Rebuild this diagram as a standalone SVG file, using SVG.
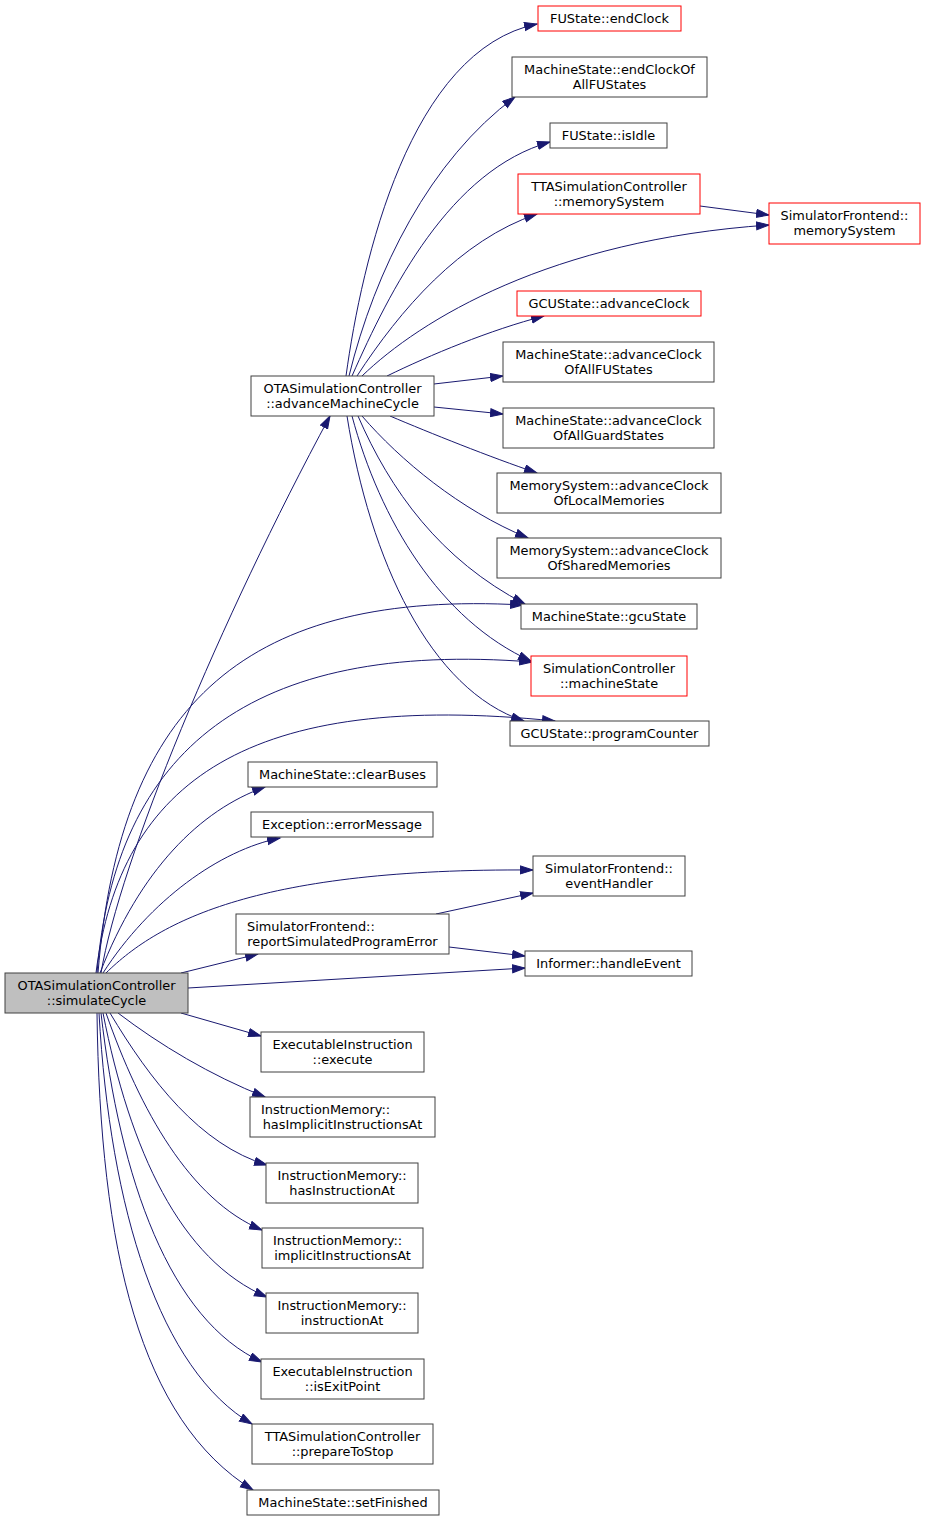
<svg xmlns="http://www.w3.org/2000/svg" width="925" height="1521" viewBox="0 0 925 1521">
<style>
.n rect{fill:#ffffff;stroke:#404040;stroke-width:1}
.n.r rect{stroke:#ff0000}
.n.s rect{fill:#bfbfbf}
.n text{font-family:"DejaVu Sans",sans-serif;font-size:12.9px;fill:#000000;text-anchor:middle}
.n text.l{text-anchor:start}
.e path{fill:none;stroke:#191970;stroke-width:1;marker-end:url(#ah)}
</style>
<defs>
<marker id="ah" markerUnits="userSpaceOnUse" markerWidth="15" markerHeight="11" refX="13" refY="4.5" orient="auto">
<path d="M0.5,0.5 L13,4.5 L0.5,8.5 z" fill="#191970" stroke="#191970" stroke-width="1"/>
</marker>
</defs>
<rect width="925" height="1521" fill="#ffffff"/>
<g id="edges" class="e">
<path d="M346,376 C362,260 410,50 537,24"/>
<path d="M349,376 C375,270 430,160 515,97"/>
<path d="M352,376 C390,290 450,170 550,142"/>
<path d="M357,376 C400,310 460,240 537,214"/>
<path d="M362,376 C420,320 550,240 769,225"/>
<path d="M700,206 L769,215"/>
<path d="M387,376 C430,355 490,330 544,316"/>
<path d="M434,384 L503,376"/>
<path d="M434,407 L503,414"/>
<path d="M390,416 C430,433 490,457 537,473"/>
<path d="M362,416 C400,460 460,510 528,538"/>
<path d="M358,416 C390,490 440,560 525,604"/>
<path d="M352,416 C380,520 440,620 531,661"/>
<path d="M347,416 C370,560 430,690 524,721"/>
<path d="M101,973 C120,860 220,620 330,416"/>
<path d="M98,973 C120,700 250,590 523,605"/>
<path d="M97,973 C115,750 250,640 532,662"/>
<path d="M96,973 C120,780 250,690 555,721"/>
<path d="M100,973 C140,870 200,810 265,787"/>
<path d="M103,973 C150,900 220,850 280,838"/>
<path d="M106,973 C160,920 260,868 533,870"/>
<path d="M181,973 L258,954"/>
<path d="M436,914 L533,893"/>
<path d="M449,947 L525,956"/>
<path d="M188,988 L525,968"/>
<path d="M181,1013 L261,1036"/>
<path d="M118,1013 C160,1045 210,1075 265,1097"/>
<path d="M110,1013 C150,1080 200,1145 267,1165"/>
<path d="M106,1013 C140,1110 190,1200 262,1230"/>
<path d="M103,1013 C130,1150 180,1260 267,1297"/>
<path d="M101,1013 C120,1180 170,1320 262,1362"/>
<path d="M99,1013 C110,1210 160,1370 252,1424"/>
<path d="M97,1013 C100,1250 140,1420 253,1490"/>
</g>
<g id="n1" class="n r"><rect x="538" y="6" width="143" height="25"/><text x="609.5" y="23">FUState::endClock</text></g>
<g id="n2" class="n"><rect x="512" y="57" width="195" height="40"/><text x="609.5" y="74">MachineState::endClockOf</text><text x="609.5" y="88.5">AllFUStates</text></g>
<g id="n3" class="n"><rect x="550" y="123" width="117" height="25"/><text x="608.5" y="140">FUState::isIdle</text></g>
<g id="n4" class="n r"><rect x="518" y="174" width="182" height="40"/><text x="609" y="191">TTASimulationController</text><text x="609" y="205.5">::memorySystem</text></g>
<g id="n5" class="n r"><rect x="769" y="203" width="151" height="41"/><text x="844.5" y="220">SimulatorFrontend::</text><text x="844.5" y="234.5">memorySystem</text></g>
<g id="n6" class="n r"><rect x="517" y="291" width="184" height="25"/><text x="609" y="308">GCUState::advanceClock</text></g>
<g id="n7" class="n"><rect x="503" y="342" width="211" height="40"/><text x="608.5" y="359">MachineState::advanceClock</text><text x="608.5" y="373.5">OfAllFUStates</text></g>
<g id="n8" class="n"><rect x="503" y="408" width="211" height="40"/><text x="608.5" y="425">MachineState::advanceClock</text><text x="608.5" y="439.5">OfAllGuardStates</text></g>
<g id="n9" class="n"><rect x="497" y="473" width="224" height="40"/><text x="609" y="490">MemorySystem::advanceClock</text><text x="609" y="504.5">OfLocalMemories</text></g>
<g id="n10" class="n"><rect x="497" y="538" width="224" height="40"/><text x="609" y="555">MemorySystem::advanceClock</text><text x="609" y="569.5">OfSharedMemories</text></g>
<g id="n11" class="n"><rect x="251" y="376" width="183" height="40"/><text x="342.5" y="393">OTASimulationController</text><text x="342.5" y="407.5">::advanceMachineCycle</text></g>
<g id="n12" class="n"><rect x="521" y="604" width="176" height="25"/><text x="609" y="621">MachineState::gcuState</text></g>
<g id="n13" class="n r"><rect x="531" y="656" width="156" height="40"/><text x="609" y="673">SimulationController</text><text x="609" y="687.5">::machineState</text></g>
<g id="n14" class="n"><rect x="510" y="721" width="199" height="25"/><text x="609.5" y="738">GCUState::programCounter</text></g>
<g id="n15" class="n"><rect x="248" y="762" width="189" height="25"/><text x="342.5" y="779">MachineState::clearBuses</text></g>
<g id="n16" class="n"><rect x="251" y="812" width="182" height="25"/><text x="342" y="829">Exception::errorMessage</text></g>
<g id="n17" class="n"><rect x="533" y="856" width="152" height="40"/><text x="609" y="873">SimulatorFrontend::</text><text x="609" y="887.5">eventHandler</text></g>
<g id="n18" class="n"><rect x="236" y="914" width="213" height="40"/><text class="l" x="247" y="931">SimulatorFrontend::</text><text x="342.5" y="945.5">reportSimulatedProgramError</text></g>
<g id="n19" class="n"><rect x="525" y="951" width="167" height="25"/><text x="608.5" y="968">Informer::handleEvent</text></g>
<g id="n20" class="n s"><rect x="5" y="973" width="183" height="40"/><text x="96.5" y="990">OTASimulationController</text><text x="96.5" y="1004.5">::simulateCycle</text></g>
<g id="n21" class="n"><rect x="261" y="1032" width="163" height="40"/><text x="342.5" y="1049">ExecutableInstruction</text><text x="342.5" y="1063.5">::execute</text></g>
<g id="n22" class="n"><rect x="250" y="1097" width="185" height="40"/><text class="l" x="261" y="1114">InstructionMemory::</text><text x="342.5" y="1128.5">hasImplicitInstructionsAt</text></g>
<g id="n23" class="n"><rect x="266" y="1163" width="152" height="40"/><text x="342" y="1180">InstructionMemory::</text><text x="342" y="1194.5">hasInstructionAt</text></g>
<g id="n24" class="n"><rect x="262" y="1228" width="161" height="40"/><text class="l" x="273" y="1245">InstructionMemory::</text><text x="342.5" y="1259.5">implicitInstructionsAt</text></g>
<g id="n25" class="n"><rect x="266" y="1293" width="152" height="40"/><text x="342" y="1310">InstructionMemory::</text><text x="342" y="1324.5">instructionAt</text></g>
<g id="n26" class="n"><rect x="261" y="1359" width="163" height="40"/><text x="342.5" y="1376">ExecutableInstruction</text><text x="342.5" y="1390.5">::isExitPoint</text></g>
<g id="n27" class="n"><rect x="252" y="1424" width="181" height="40"/><text x="342.5" y="1441">TTASimulationController</text><text x="342.5" y="1455.5">::prepareToStop</text></g>
<g id="n28" class="n"><rect x="247" y="1490" width="192" height="25"/><text x="343" y="1507">MachineState::setFinished</text></g>
</svg>
